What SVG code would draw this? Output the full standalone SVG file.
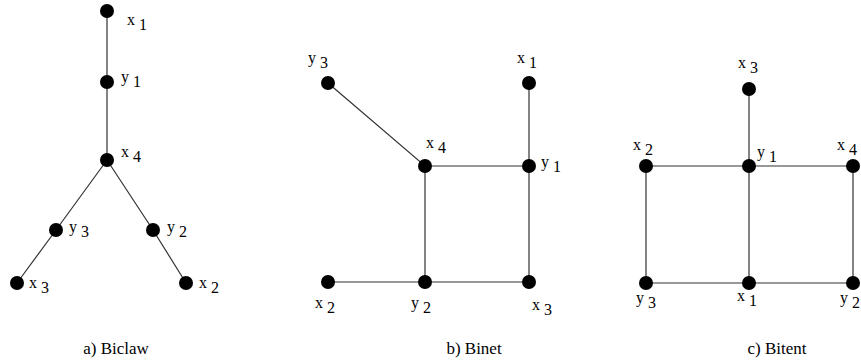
<svg xmlns="http://www.w3.org/2000/svg" width="861" height="362" viewBox="0 0 861 362">
<style>
.e{stroke:#333;stroke-width:1.2;fill:none}
.n{fill:#000}
.l{font-family:'Liberation Serif','Times New Roman','DejaVu Serif',serif;font-size:16px;fill:#000}
.c{font-family:'Liberation Serif','Times New Roman','DejaVu Serif',serif;font-size:17px;fill:#000;text-anchor:middle}
</style>
<rect width="861" height="362" fill="#fff"/>
<g id="connectors">
<path class="e" d="M107 11V160M107 160L56 230L17 283M107 160L153 230L186 283"/>
<path class="e" d="M328 83L425 166H529M529 83V282M425 166V282M328 282H529"/>
<path class="e" d="M749 89V283M646 166H853V283H646Z"/>
</g>
<g id="a_x1"><circle class="n" cx="107" cy="11" r="7"/><text class="l" x="127" y="25">x <tspan dy="5">1</tspan></text></g>
<g id="a_y1"><circle class="n" cx="107" cy="82" r="7"/><text class="l" x="121" y="82">y <tspan dy="5">1</tspan></text></g>
<g id="a_x4"><circle class="n" cx="107" cy="160" r="7"/><text class="l" x="121" y="157">x <tspan dy="5">4</tspan></text></g>
<g id="a_y3"><circle class="n" cx="56" cy="230" r="7"/><text class="l" x="69" y="232">y <tspan dy="5">3</tspan></text></g>
<g id="a_y2"><circle class="n" cx="153" cy="230" r="7"/><text class="l" x="167" y="232">y <tspan dy="5">2</tspan></text></g>
<g id="a_x3"><circle class="n" cx="17" cy="283" r="7"/><text class="l" x="29" y="288">x <tspan dy="5">3</tspan></text></g>
<g id="a_x2"><circle class="n" cx="186" cy="283" r="7"/><text class="l" x="199" y="288">x <tspan dy="5">2</tspan></text></g>
<text class="c" x="116" y="354">a) Biclaw</text>

<g id="b_y3"><circle class="n" cx="328" cy="83" r="7"/><text class="l" x="308" y="63">y <tspan dy="5">3</tspan></text></g>
<g id="b_x1"><circle class="n" cx="529" cy="83" r="7"/><text class="l" x="517" y="63">x <tspan dy="5">1</tspan></text></g>
<g id="b_x4"><circle class="n" cx="425" cy="166" r="7"/><text class="l" x="426" y="148">x <tspan dy="5">4</tspan></text></g>
<g id="b_y1"><circle class="n" cx="529" cy="166" r="7"/><text class="l" x="541" y="167">y <tspan dy="5">1</tspan></text></g>
<g id="b_x2"><circle class="n" cx="328" cy="282" r="7"/><text class="l" x="315" y="308">x <tspan dy="5">2</tspan></text></g>
<g id="b_y2"><circle class="n" cx="425" cy="282" r="7"/><text class="l" x="411" y="308">y <tspan dy="5">2</tspan></text></g>
<g id="b_x3"><circle class="n" cx="529" cy="282" r="7"/><text class="l" x="532" y="310">x <tspan dy="5">3</tspan></text></g>
<text class="c" x="474" y="354">b) Binet</text>

<g id="c_x3"><circle class="n" cx="749" cy="89" r="7"/><text class="l" x="738" y="68">x <tspan dy="5">3</tspan></text></g>
<g id="c_x2"><circle class="n" cx="646" cy="166" r="7"/><text class="l" x="633" y="150">x <tspan dy="5">2</tspan></text></g>
<g id="c_y1"><circle class="n" cx="749" cy="166" r="7"/><text class="l" x="757" y="157">y <tspan dy="5">1</tspan></text></g>
<g id="c_x4"><circle class="n" cx="853" cy="166" r="7"/><text class="l" x="837" y="150">x <tspan dy="5">4</tspan></text></g>
<g id="c_y3"><circle class="n" cx="646" cy="283" r="7"/><text class="l" x="636" y="303">y <tspan dy="5">3</tspan></text></g>
<g id="c_x1"><circle class="n" cx="749" cy="283" r="7"/><text class="l" x="737" y="301">x <tspan dy="5">1</tspan></text></g>
<g id="c_y2"><circle class="n" cx="853" cy="283" r="7"/><text class="l" x="840" y="303">y <tspan dy="5">2</tspan></text></g>
<text class="c" x="777" y="354">c) Bitent</text>
</svg>
